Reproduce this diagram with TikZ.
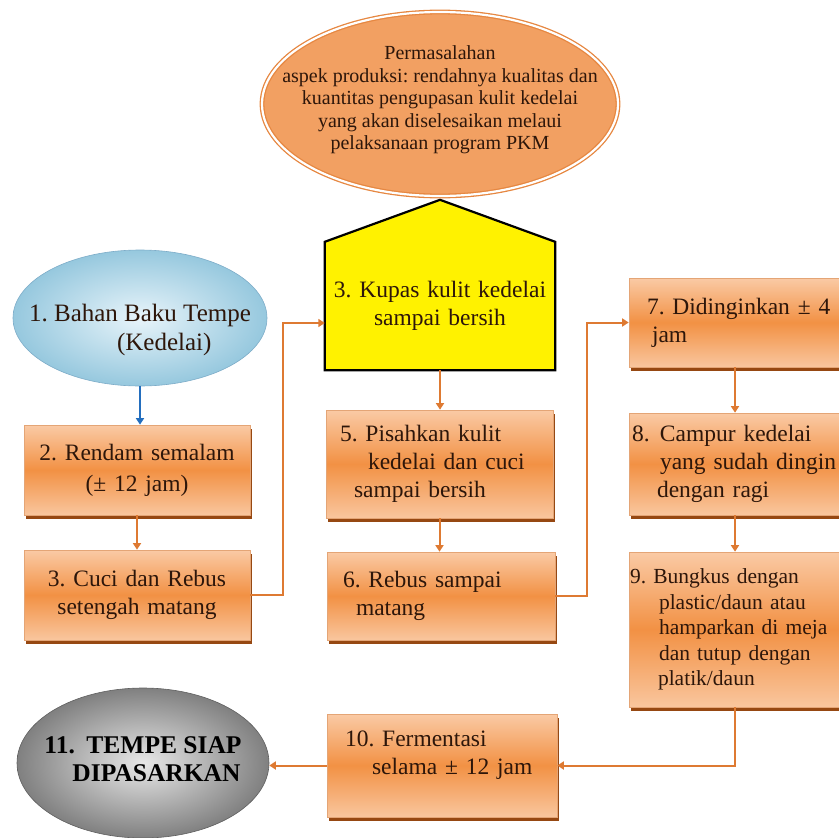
\documentclass[tikz,border=0pt]{standalone}
\usepackage{fontspec}
\setmainfont{Liberation Serif}
\usetikzlibrary{arrows.meta,shapes.geometric,shadows,backgrounds}
\definecolor{otop}{RGB}{250,202,165}
\definecolor{omid}{RGB}{242,145,68}
\definecolor{obot}{RGB}{249,198,158}
\definecolor{oborder}{RGB}{228,165,118}
\definecolor{oshadow}{RGB}{150,72,18}
\definecolor{conn}{RGB}{222,122,50}
\definecolor{bconn}{RGB}{35,110,190}
\definecolor{txt}{RGB}{45,22,10}
\definecolor{ellor}{RGB}{242,160,98}
\definecolor{ellorline}{RGB}{230,135,65}
\definecolor{bluein}{RGB}{232,244,250}
\definecolor{blueout}{RGB}{150,200,222}
\definecolor{blueline}{RGB}{125,172,200}
\definecolor{greyin}{RGB}{232,232,232}
\definecolor{greyout}{RGB}{128,128,128}
\definecolor{greyline}{RGB}{95,95,95}
\newcommand{\boxfnt}{\fontsize{23.5}{28}\selectfont}
\newcommand{\smallboxfnt}{\fontsize{21.5}{25.5}\selectfont}
\frenchspacing
\begin{document}
\frenchspacing
\begin{tikzpicture}[x=1pt,y=-1pt,
  obox/.style={rectangle, inner xsep=0pt, inner ysep=0pt, draw=oborder, line width=0.6pt,
    top color=otop, bottom color=obot, middle color=omid,
    drop shadow={shadow xshift=2pt, shadow yshift=-4pt, fill=oshadow, opacity=1},
    text=txt, font=\boxfnt, align=left},
  conn/.style={draw=conn, line width=2pt, -{Triangle[width=8pt,length=6.5pt]}},
  bluearrow/.style={draw=bconn, line width=2pt, -{Triangle[width=8pt,length=6.5pt]}}
]
\useasboundingbox (0,0) rectangle (838,838);

% top ellipse
\node[ellipse, minimum width=356, minimum height=184, inner xsep=-60pt, inner ysep=0pt,
  fill=ellor, draw=ellorline, line width=1.3pt, double=white, double distance=2.2pt,
  align=center, text=txt, font=\fontsize{20}{22.5}\selectfont] (masalah) at (440,104)
  {\mbox{}\\[-17pt]Permasalahan\\aspek produksi: rendahnya kualitas dan\\kuantitas pengupasan kulit kedelai\\yang akan diselesaikan melaui\\pelaksanaan program PKM};

% ellipse 1
\node[ellipse, minimum width=254, minimum height=136, inner xsep=-40pt, inner ysep=0pt,
  inner color=bluein, outer color=blueout, draw=blueline, line width=0.6pt,
  align=left, text=txt, font=\fontsize{25}{29}\selectfont] (bahan) at (140,318)
  {\mbox{}\\[12pt]1. Bahan Baku Tempe\\\hspace*{88pt}(Kedelai)};

% left column
\node[obox, text width=226, minimum height=90, align=center] (rendam) at (137,470)
  {2. Rendam semalam\\[3pt](± 12 jam)};
\node[obox, text width=226, minimum height=90, align=center] (cuci) at (137,595)
  {3. Cuci dan Rebus\\setengah matang};

% yellow house
\node[rectangle, minimum width=230, minimum height=128, inner sep=0pt, text width=230,
  align=center, text=txt, font=\boxfnt] (kupas) at (440,306)
  {3. Kupas kulit kedelai\\sampai bersih};
\begin{scope}[on background layer]
\filldraw[fill=yellow, draw=black, line width=2.2pt, line join=miter]
  (kupas.south west) -- (kupas.north west) -- ([yshift=42pt]kupas.north)
  -- (kupas.north east) -- (kupas.south east) -- cycle;
\end{scope}

% middle column
\node[obox, text width=227, minimum height=108] (pisah) at (439.5,464)
  {\leftskip=14pt 5. Pisahkan kulit\\\hspace*{28pt}kedelai dan cuci\\\hspace*{28pt}sampai bersih};
\node[obox, text width=228, minimum height=88] (rebus) at (441,596)
  {\leftskip=16pt 6. Rebus sampai\\\hspace*{29pt}matang};
\node[obox, text width=230, minimum height=103] (fermen) at (442,765.5)
  {\leftskip=18pt 10. Fermentasi\\\hspace*{27pt}selama ± 12 jam\\[-2pt]\mbox{}};

% right column
\node[obox, text width=212, minimum height=89] (dingin) at (735,322.5)
  {\leftskip=18pt 7. Didinginkan ± 4\\\hspace*{23pt}jam};
\node[obox, text width=212, minimum height=102] (campur) at (735,464)
  {\leftskip=3pt \makebox[28pt][l]{8.}Campur kedelai\\\hspace*{28pt}yang sudah dingin\\\hspace*{28pt}dengan ragi};
\node[obox, text width=212, minimum height=155, font=\smallboxfnt] (bungkus) at (735,629.5)
  {\leftskip=1pt 9. Bungkus dengan\\\hspace*{29pt}plastic/daun atau\\\hspace*{29pt}hamparkan di meja\\\hspace*{29pt}dan tutup dengan\\\hspace*{29pt}platik/daun};

% ellipse 11
\node[ellipse, minimum width=252, minimum height=150, inner xsep=-30pt, inner ysep=0pt,
  inner color=greyin, outer color=greyout, draw=greyline, line width=0.6pt,
  align=left, text=black, font=\fontsize{25.5}{28}\selectfont\bfseries] (siap) at (143,763)
  {\mbox{}\\[-18pt]\makebox[42pt][l]{11.}TEMPE SIAP\\\hspace*{28pt}DIPASARKAN};

% connectors
\draw[bluearrow] (bahan.south) -- (bahan.south |- rendam.north);
\draw[conn] (rendam.south) -- (cuci.north);
\draw[conn] (cuci.east) -- ++(33,0) |- ([yshift=-17pt]kupas.west);
\draw[conn] (kupas.south) -- (kupas.south |- pisah.north);
\draw[conn] (pisah.south) -- (pisah.south |- rebus.north);
\draw[conn] (rebus.east) -- ++(32,0) |- (dingin.west);
\draw[conn] (dingin.south) -- (campur.north);
\draw[conn] (campur.south) -- (bungkus.north);
\draw[conn] (bungkus.south) |- (fermen.east);
\draw[conn] (fermen.west) -- (fermen.west -| siap.east);
\end{tikzpicture}
\end{document}
